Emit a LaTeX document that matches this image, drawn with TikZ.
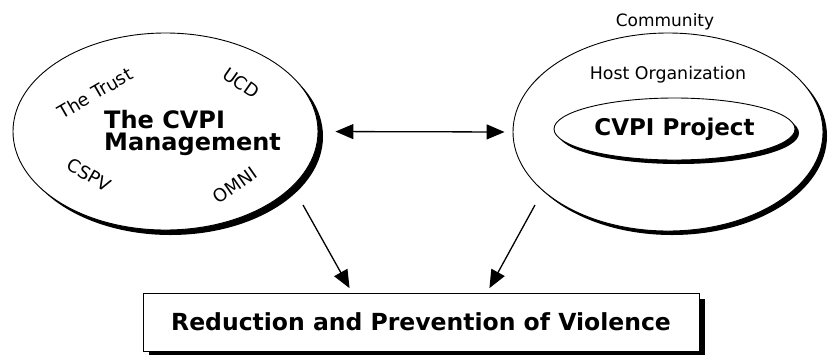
\documentclass[tikz,border=0pt]{standalone}
\usepackage{fontspec}
\setmainfont{DejaVu Sans}
\usetikzlibrary{shapes.geometric,arrows.meta,shadows}

\begin{document}
\begin{tikzpicture}[x=1pt,y=-1pt,
    oval/.style={ellipse, draw, fill=white, line width=0.9pt, inner sep=0pt},
    shade/.style={drop shadow={fill=black, opacity=1, shadow xshift=#1, shadow yshift=-#1}},
    rim/.style={font=\fontsize{18}{20}\selectfont, inner sep=0pt},
    arr/.style={line width=1.3pt, -{Triangle[length=18pt,width=15pt]}},
    dbl/.style={line width=1.3pt, {Triangle[length=18pt,width=15pt]}-{Triangle[length=18pt,width=15pt]}}]
    \useasboundingbox (0,0) rectangle (837,354);
    %Management oval
    \node[oval, shade=5pt, minimum width=305pt, minimum height=197pt] (mgmt) at (165.5,131.5) {};
    \node[anchor=west, align=left, inner sep=0pt, font=\bfseries\fontsize{24}{22}\selectfont] (mgmttext) at (104,133) {The CVPI\\Management};
    %Partners round the rim
    \node[rim, rotate=30] (trust) at (95,93) {The Trust};
    \node[rim, rotate=-35] (ucd) at (241,83) {UCD};
    \node[rim, rotate=-30] (cspv) at (89,175) {CSPV};
    \node[rim, rotate=35] (omni) at (235,185) {OMNI};
    %Host oval
    \node[oval, shade=4pt, minimum width=310pt, minimum height=198pt] (host) at (668,132) {};
    \node[font=\fontsize{17}{19}\selectfont, inner sep=0pt] (comm) at (665,22) {Community};
    \node[font=\fontsize{17.4}{19}\selectfont, inner sep=0pt] (org) at (668,75) {Host Organization};
    \node[oval, shade=4pt, minimum width=241pt, minimum height=62pt, font=\bfseries\fontsize{23}{25}\selectfont] (proj) at (674.5,129) {CVPI Project};
    %Goal box
    \node[draw, fill=white, line width=0.9pt, shade=6pt, minimum width=556pt, minimum height=58pt, font=\bfseries\fontsize{23.5}{25}\selectfont] (goal) at (421,322) {Reduction and Prevention of Violence};
    %Arrows
    \draw[dbl, shorten <=17pt, shorten >=8pt] (mgmt.east) -- (host.west);
    \coordinate (mgmtout) at (303,205);
    \coordinate (hostout) at (535,205);
    \draw[arr, shorten >=5pt] (mgmtout) -- ([xshift=-69pt]goal.north);
    \draw[arr, shorten >=5pt] (hostout) -- ([xshift=66pt]goal.north);
\end{tikzpicture}
\end{document}
